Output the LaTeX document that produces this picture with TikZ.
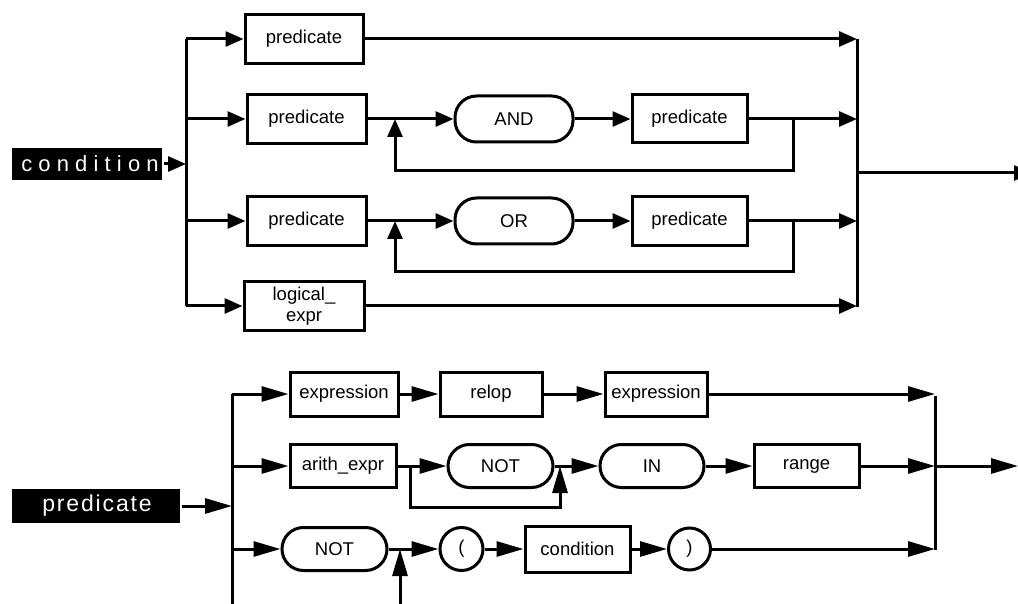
\documentclass[tikz,border=0pt]{standalone}
\usepackage{fontspec}
\setmainfont{Liberation Sans}
\newfontfamily\headfontA[LetterSpace=28]{Liberation Sans}
\newfontfamily\headfontB[LetterSpace=8]{Liberation Sans}
\usetikzlibrary{arrows.meta}

\begin{document}
\begin{tikzpicture}[x=1pt, y=-1pt, line width=3pt,
  every node/.style={font=\fontsize{18.5}{21}\selectfont, inner sep=0pt},
  box/.style={draw, rectangle, line width=3pt},
  oval/.style={draw, rectangle, rounded corners=21.5pt, line width=3pt},
  circ/.style={draw, circle, line width=3pt},
  head/.style={fill=black, text=white},
  ta/.style={-{Triangle[length=18pt,width=15pt]}},
  ba/.style={-{Triangle[length=27pt,width=15pt]}}
]
\useasboundingbox (0,0) rectangle (1018,604);
\clip (0,0) rectangle (1018,604);

% ---------------- condition ----------------
\node[head, minimum width=150pt, minimum height=32pt, font=\fontsize{22}{24}\selectfont] (cond) at (87,164) {\headfontA condition\kern-6pt};

\coordinate (Lin) at (186,164);
\coordinate (L1) at (186,39);
\coordinate (L2) at (186,119);
\coordinate (L3) at (186,221);
\coordinate (L4) at (186,306);
\coordinate (R1) at (857,39);
\coordinate (R2) at (857,119);
\coordinate (R3) at (857,221);
\coordinate (R4) at (857,306);
\coordinate (Rout) at (857,173);
\coordinate (Oend) at (1032,173);

\draw (L1) -- (L4);
\draw (R1) -- (857,307);
\draw[ta] (cond) -- (Lin);

% first alternative
\node[box, minimum width=118pt, minimum height=49pt] (p1) at (304,39) {predicate};
\draw[ta] (L1) -- (p1);
\draw[ta] (p1) -- (R1);

% AND chain
\node[box, minimum width=119pt, minimum height=49pt] (p2) at (306.5,119) {predicate};
\node[oval, minimum width=118pt, minimum height=46pt] (and) at (514,119) {AND};
\node[box, minimum width=115pt, minimum height=48pt] (p3) at (689.5,119) {predicate};
\coordinate (ja) at (395,119);
\coordinate (jb) at (793,119);
\coordinate (jc) at (793,171);
\coordinate (jd) at (395,171);
\draw[ta] (L2) -- (p2);
\draw (p2) -- (ja);
\draw[ta] (ja) -- (and);
\draw[ta] (and) -- (p3);
\draw[ta] (p3) -- (R2);
\draw[ta] (jb) -- (jc) -- (jd) -- (ja);

% OR chain
\node[box, minimum width=119pt, minimum height=49pt] (p4) at (306.5,221) {predicate};
\node[oval, minimum width=118pt, minimum height=46pt] (or) at (514,221) {OR};
\node[box, minimum width=115pt, minimum height=49pt] (p5) at (689.5,221) {predicate};
\coordinate (ka) at (395,221);
\coordinate (kb) at (793,221);
\coordinate (kc) at (793,272);
\coordinate (kd) at (395,272);
\draw[ta] (L3) -- (p4);
\draw (p4) -- (ka);
\draw[ta] (ka) -- (or);
\draw[ta] (or) -- (p5);
\draw[ta] (p5) -- (R3);
\draw[ta] (kb) -- (kc) -- (kd) -- (ka);

% logical expression
\node[box, minimum width=120pt, minimum height=49pt, align=center] (lexpr) at (304,306) {logical\_\\expr};
\draw[ta] (L4) -- (lexpr);
\draw[ta] (lexpr) -- (R4);

\draw[ta] (Rout) -- (Oend);

% ---------------- predicate ----------------
\node[head, minimum width=168pt, minimum height=34pt, font=\fontsize{23}{25}\selectfont] (pred) at (96,506) {\headfontB predicate\kern-2pt};

\coordinate (Bin) at (232,506);
\coordinate (B1) at (232,394);
\coordinate (B2) at (232,466);
\coordinate (B3) at (232,549);
\coordinate (Bend) at (232,610);
\coordinate (S1) at (935,394);
\coordinate (S2) at (935,466);
\coordinate (S3) at (935,549);
\coordinate (Sout) at (1018,466);

\draw (B1) -- (Bend);
\draw (935,396) -- (935,550);
\draw[ba] (pred) -- (Bin);

% relational comparison
\node[box, minimum width=108pt, minimum height=44pt] (e1) at (344,394) {expression};
\node[box, minimum width=102pt, minimum height=44pt] (rel) at (491,394) {relop};
\node[box, minimum width=102pt, minimum height=44pt] (e2) at (656,394) {expression};
\draw[ba] (B1) -- (e1);
\draw[ba] (e1) -- (rel);
\draw[ba] (rel) -- (e2);
\draw[ba] (e2) -- (S1);

% range membership
\node[box, minimum width=106pt, minimum height=43pt] (ae) at (343,466) {arith\_expr};
\node[oval, minimum width=105pt, minimum height=43pt] (not1) at (500.5,466) {NOT};
\node[oval, minimum width=104pt, minimum height=43pt] (in) at (652,466) {IN};
\node[box, minimum width=105pt, minimum height=43pt] (rng) at (806.5,466) {range};
\coordinate (ma) at (410,466);
\coordinate (mb) at (560,466);
\coordinate (mc) at (410,507);
\coordinate (md) at (560,507);
\draw[ba] (B2) -- (ae);
\draw (ae) -- (ma);
\draw[ba] (ma) -- (not1);
\draw (not1) -- (mb);
\draw[ba] (mb) -- (in);
\draw[ba] (in) -- (rng);
\draw[ba] (rng) -- (S2);
\draw[ba] (ma) -- (mc) -- (md) -- (mb);

% parenthesised condition
\node[oval, minimum width=105pt, minimum height=43pt] (not2) at (334.5,549) {NOT};
\node[circ, minimum size=43pt] (lp) at (461.5,549) {(};
\node[box, minimum width=105pt, minimum height=46pt] (cbox) at (577.5,549) {condition};
\node[circ, minimum size=42pt] (rp) at (689.5,549) {)};
\coordinate (na) at (400,549);
\coordinate (nb) at (400,610);
\draw[ba] (B3) -- (not2);
\draw (not2) -- (na);
\draw[ba] (nb) -- (na);
\draw[ba] (na) -- (lp);
\draw[ba] (lp) -- (cbox);
\draw[ba] (cbox) -- (rp);
\draw[ba] (rp) -- (S3);

\draw[ba] (S2) -- (Sout);
\end{tikzpicture}
\end{document}
